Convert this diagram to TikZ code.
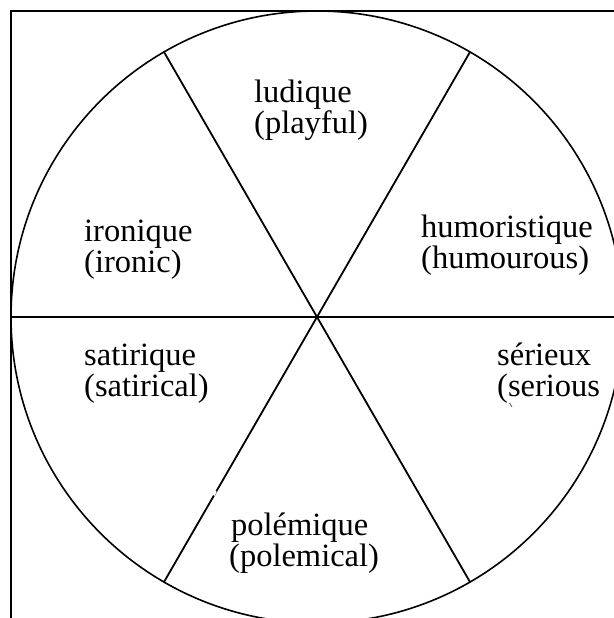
\documentclass[tikz,border=0pt]{standalone}
\usepackage{fontspec}
\setmainfont{Liberation Serif}
\begin{document}
\begin{tikzpicture}[x=1bp,y=-1bp,
  lbl/.style={anchor=base west,inner sep=0pt,font=\fontsize{32.5bp}{32bp}\selectfont},
  divider/.style={line width=1.8bp},
  frame/.style={line width=2bp}]
\useasboundingbox (0,0) rectangle (614,618);
% frame
\coordinate (fbl) at (11,620);
\coordinate (ftl) at (11,11);
\coordinate (ftr) at (616,11);
\draw[frame] (fbl) -- (ftl) -- (ftr);
% circle
\coordinate (c) at (317,317);
\draw[line width=1.6bp] (c) circle[radius=306];
% dividers
\coordinate (hl) at (11,317);
\coordinate (hr) at (616,317);
\draw[divider] (hl) -- (hr);
\draw[divider] (c) ++(-153,-265) coordinate (tl) -- ++(306,530) coordinate (br);
\draw[divider] (c) ++(153,-265) coordinate (tr) -- ++(-306,530) coordinate (bl);
% small gap in lower-left divider
\coordinate (g1) at (215.5,491);
\coordinate (g2) at (213.2,495);
\draw[white,line width=3bp] (g1) -- (g2);
% small stray mark
\coordinate (m1) at (509.5,403);
\coordinate (m2) at (512,407);
\draw[black!60,line width=0.9bp] (m1) -- (m2);
% labels
\node[lbl] (l1) at (254,103) {ludique};
\node[lbl] (l2) at (254,134) {(playful)};
\node[lbl] (i1) at (84,241) {ironique};
\node[lbl] (i2) at (84,272) {(ironic)};
\node[lbl] (h1) at (421,237) {humoristique};
\node[lbl] (h2) at (421,268) {(humourous)};
\node[lbl] (s1) at (84,365) {satirique};
\node[lbl] (s2) at (84,396) {(satirical)};
\node[lbl] (r1) at (497,365) {sérieux};
\node[lbl] (r2) at (497,396) {(serious};
\node[lbl] (p1) at (231,535) {polémique};
\node[lbl] (p2) at (229,566) {(polemical)};
\end{tikzpicture}
\end{document}
